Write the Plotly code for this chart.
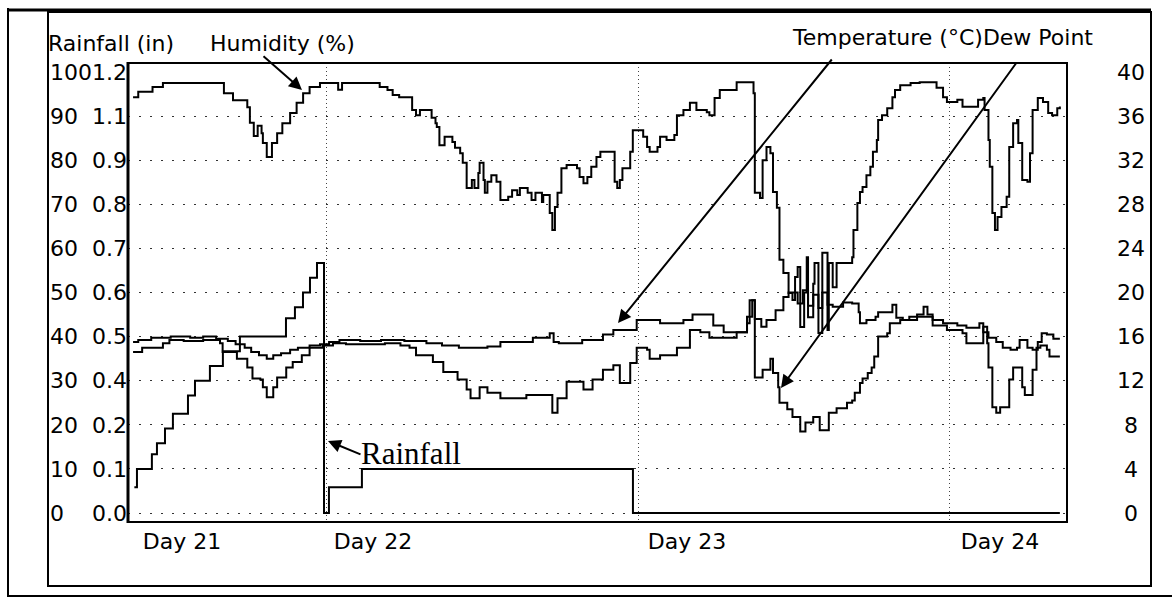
import plotly.graph_objects as go

W, H = 1172, 599

# ---------------- data (x in hours since start of Day 21) ----------------
hum_t = [9.1, 9.5, 10.6, 11.4, 16.1, 16.8, 17.9, 18.1, 18.4, 18.7, 19.0, 19.1, 19.4, 19.8,
         20.2, 20.6, 21.2, 21.7, 22.2, 22.7, 23.5, 24.9, 25.2, 28.1, 28.7, 29.1, 29.6,
         30.6, 30.9, 31.2, 32.1, 32.4, 32.5, 32.7, 33.1, 33.7, 33.9, 34.3, 34.5, 34.8,
         35.2, 35.4, 35.7, 35.8, 36.1, 36.2, 36.4, 36.7, 37.1, 37.4, 38.0, 38.3, 38.7,
         38.9, 39.5, 39.8, 40.1, 40.6, 40.7, 41.2, 41.4, 41.6, 41.8, 42.1, 42.5, 43.3,
         43.5, 43.8, 44.1, 44.4, 44.8, 45.1, 46.2, 46.4, 46.6, 46.8, 47.4, 47.6, 48.4,
         48.7, 48.9, 49.5, 49.7, 50.2, 50.8, 51.0, 51.5, 52.0, 52.5, 53.3, 53.5, 53.9,
         54.3, 55.6, 56.9, 57.0, 57.4, 57.6, 57.9, 58.2, 58.4, 58.7, 58.9, 59.2, 59.6,
         59.9, 60.1, 60.3, 60.5, 60.8, 61.0, 61.1, 61.5, 61.6, 61.9, 62.2, 62.6, 62.7,
         63.0, 63.3, 64.5, 64.6, 64.9, 65.1, 65.3, 65.6, 65.9, 66.1, 66.4, 66.5, 66.8,
         67.2, 67.6, 67.8, 68.2, 69.0, 69.7, 71.0, 71.5, 71.8, 72.6, 73.0, 74.2, 74.6,
         74.7, 75.0, 75.1, 75.3, 75.5, 75.7, 76.0, 76.4, 76.6, 76.9, 77.2, 77.3, 77.6,
         78.0, 78.2, 78.4, 78.8, 79.2, 79.6, 79.9, 80.3, 80.5]
hum_v = [94.3, 95.5, 96.6, 97.5, 95.2, 93.6, 92.0, 88.5, 85.5, 87.8, 86.1, 83.9, 80.7, 83.9,
         86.1, 88.4, 90.7, 93.0, 95.2, 96.6, 97.5, 96.0, 97.5, 96.6, 95.9, 94.8, 94.3,
         91.4, 90.2, 91.4, 89.6, 88.4, 87.5, 83.4, 85.3, 84.1, 82.8, 81.6, 79.4, 73.7,
         75.5, 73.7, 77.1, 79.4, 75.5, 72.6, 75.1, 76.6, 75.1, 71.0, 71.7, 73.2, 72.1,
         73.7, 72.6, 71.0, 72.6, 70.5, 72.1, 68.0, 64.2, 69.4, 72.6, 78.2, 78.9, 78.2,
         76.2, 74.8, 76.2, 78.5, 80.7, 81.9, 75.1, 73.7, 75.5, 78.2, 81.9, 86.8, 85.3,
         83.0, 81.9, 83.0, 85.3, 84.6, 85.7, 90.2, 91.4, 93.0, 91.4, 90.9, 90.2, 94.1,
         95.9, 97.7, 95.2, 72.6, 71.4, 80.0, 83.0, 81.6, 72.8, 69.2, 57.4, 54.4, 49.9,
         48.3, 53.5, 55.8, 42.2, 50.0, 58.0, 44.4, 52.0, 56.7, 40.8, 59.0, 41.5, 56.7,
         51.2, 56.7, 58.0, 64.2, 70.3, 72.8, 73.9, 76.6, 78.5, 81.9, 84.6, 89.1, 90.2,
         91.8, 94.3, 95.9, 97.0, 97.5, 97.7, 96.4, 94.3, 93.2, 93.7, 92.1, 93.7, 94.1,
         91.4, 84.6, 78.5, 68.0, 64.2, 67.1, 69.4, 71.7, 83.0, 88.4, 89.1, 83.9, 75.5,
         75.1, 81.6, 91.4, 94.1, 93.2, 90.7, 90.2, 91.8, 92.2]

rain_t = [9.2, 9.4, 10.55, 10.94, 11.56, 12.17, 13.33, 13.87, 15.02, 16.02, 17.33, 20.88,
          21.57, 22.19, 22.73, 23.27, 23.81, 24.19, 26.73, 47.61, 80.5]
rain_v = [0.07, 0.12, 0.16, 0.19, 0.23, 0.27, 0.32, 0.36, 0.40, 0.44, 0.48, 0.53,
          0.56, 0.60, 0.64, 0.68, 0.0, 0.07, 0.12, 0.0, 0.0]

temp_t = [9.1, 9.5, 10.5, 12.0, 13.5, 14.5, 15.5, 16.4, 17.0, 17.7, 18.2, 18.8, 19.4, 19.9,
          20.5, 21.2, 21.8, 22.7, 23.5, 24.2, 25.0, 26.6, 28.2, 30.0, 31.7, 32.9, 34.2,
          35.5, 36.4, 37.4, 38.7, 39.9, 41.2, 41.5, 41.9, 43.7, 45.3, 46.1, 47.9, 49.7,
          51.5, 52.2, 53.8, 54.6, 56.4, 56.6, 57.0, 57.5, 57.9, 58.6, 59.2, 59.6, 60.3,
          60.7, 61.1, 61.5, 61.9, 62.2, 62.6, 63.0, 63.8, 64.5, 65.0, 65.1, 65.6, 66.3,
          66.5, 67.6, 67.9, 68.4, 69.5, 70.0, 70.3, 70.7, 71.5, 72.6, 73.3, 74.3, 74.6,
          75.0, 75.6, 76.1, 76.7, 77.2, 77.4, 78.0, 78.4, 78.8, 79.1, 79.5, 80.0, 80.5]
temp_v = [15.5, 15.7, 15.9, 16.0, 15.9, 16.0, 15.8, 15.6, 15.3, 15.0, 14.6, 14.3, 14.0, 14.3,
          14.5, 14.8, 15.0, 15.2, 15.3, 15.5, 15.7, 15.6, 15.7, 15.6, 15.4, 15.2, 15.0,
          15.0, 15.1, 15.5, 15.5, 15.9, 16.3, 15.5, 15.4, 15.7, 16.2, 16.6, 17.5, 17.2,
          17.5, 18.0, 17.0, 16.4, 17.2, 19.3, 17.6, 16.9, 17.5, 18.4, 19.6, 20.0, 19.0,
          20.2, 18.8, 19.8, 18.6, 20.0, 18.9, 18.7, 19.1, 19.0, 18.2, 17.2, 17.5, 17.8,
          18.2, 18.9, 17.7, 17.5, 18.0, 18.7, 18.0, 17.5, 17.2, 17.0, 16.8, 17.2, 16.4,
          15.9, 15.5, 15.0, 14.8, 15.0, 15.7, 15.0, 14.8, 15.5, 16.3, 16.2, 15.8, 15.8]

dew_t = [9.1, 9.8, 11.4, 11.9, 13.0, 14.5, 15.8, 16.0, 17.1, 17.9, 18.3, 18.9, 19.1, 19.4,
         19.9, 20.2, 20.9, 21.4, 22.1, 22.7, 23.7, 24.5, 25.5, 28.5, 29.7, 30.4, 30.9,
         32.2, 33.0, 34.1, 34.8, 35.1, 35.8, 36.4, 37.4, 39.4, 41.4, 41.8, 42.5, 43.8,
         44.5, 45.3, 46.1, 46.6, 47.4, 47.9, 48.7, 48.9, 49.7, 51.0, 52.0, 52.8, 53.5,
         55.6, 56.4, 56.8, 57.0, 57.6, 58.2, 58.4, 58.8, 58.9, 59.5, 59.9, 60.5, 60.9,
         61.5, 62.0, 62.7, 63.3, 64.1, 64.5, 64.7, 65.1, 65.3, 65.7, 66.0, 66.2, 66.5,
         67.2, 67.4, 68.2, 68.9, 70.7, 71.8, 73.0, 73.3, 74.3, 74.6, 74.9, 75.0, 75.3,
         75.6, 75.9, 76.4, 76.6, 76.9, 77.3, 77.6, 77.8, 78.2, 78.4, 78.7, 79.0, 79.5,
         79.7, 80.5]
dew_v = [14.6, 15.0, 15.4, 15.7, 15.6, 15.7, 15.4, 14.6, 14.0, 13.2, 12.2, 12.1, 11.4, 10.5,
         11.4, 12.3, 13.2, 13.7, 14.3, 15.0, 15.2, 15.4, 15.3, 15.4, 15.2, 15.0, 14.3,
         13.7, 12.8, 12.1, 11.2, 10.4, 11.4, 10.9, 10.4, 10.7, 9.1, 10.4, 11.9, 11.2,
         12.1, 13.0, 13.4, 11.8, 13.6, 15.0, 14.8, 14.0, 14.3, 15.0, 16.6, 16.4, 15.9,
         16.4, 17.8, 19.3, 12.3, 13.0, 14.0, 12.7, 11.4, 10.0, 9.4, 8.7, 7.4, 8.2,
         8.7, 7.5, 9.1, 9.5, 10.0, 10.2, 10.9, 11.8, 12.2, 12.7, 13.2, 14.2, 16.0,
         16.3, 17.2, 17.5, 17.8, 17.0, 16.6, 16.3, 15.4, 15.4, 16.9, 15.4, 13.2, 9.6,
         9.1, 9.6, 9.6, 12.1, 13.2, 13.2, 11.4, 10.7, 10.7, 13.0, 15.0, 15.2, 14.8,
         14.2, 14.2]

day_ticks = [12.87, 27.58, 51.77, 75.89]
day_labels = ["Day 21", "Day 22", "Day 23", "Day 24"]
day_bounds = [24, 48, 72]

hum_ticks = [0, 10, 20, 30, 40, 50, 60, 70, 80, 90, 100]
hum_labels = ["0", "10", "20", "30", "40", "50", "60", "70", "80", "90", "100"]
hum_grid = [0, 10, 20, 30, 40, 50, 60, 70, 80, 90]
rain_ticks = [0.0, 0.12, 0.24, 0.36, 0.48, 0.60, 0.72, 0.84, 0.96, 1.08, 1.20]
rain_labels = ["0.0", "0.1", "0.2", "0.4", "0.5", "0.6", "0.7", "0.8", "0.9", "1.1", "1.2"]
temp_ticks = [0, 4, 8, 12, 16, 20, 24, 28, 32, 36, 40]
temp_labels = ["0", "4", "8", "12", "16", "20", "24", "28", "32", "36", "40"]

# ---------------- layout helpers ----------------
def px(x):
    return x / W

def py(y):
    return 1 - y / H

FONT = "DejaVu Sans"
X_RANGE = [8.71, 81.05]
HUM_RANGE = [-2.04, 102.04]
RAIN_RANGE = [-2.04 * 0.012, 102.04 * 0.012]
TEMP_RANGE = [-2.04 * 0.4, 102.04 * 0.4]

# padded labels for alignment
hum_text = [s + "\u2007" * (3 - len(s)) for s in hum_labels]
temp_text = [("\u00a0" + s) if len(s) == 1 else s for s in temp_labels]

line_style = dict(color="black", width=2, shape="hv")

fig = go.Figure()
fig.add_trace(go.Scatter(x=hum_t, y=hum_v, mode="lines", line=line_style, yaxis="y", name="Humidity"))
fig.add_trace(go.Scatter(x=rain_t, y=rain_v, mode="lines", line=line_style, yaxis="y2", name="Rainfall"))
fig.add_trace(go.Scatter(x=temp_t, y=temp_v, mode="lines", line=line_style, yaxis="y3", name="Temperature"))
fig.add_trace(go.Scatter(x=dew_t, y=dew_v, mode="lines", line=line_style, yaxis="y3", name="Dew Point"))

ydom = [py(522), py(63)]
tickfont = dict(family=FONT, size=22, color="black")

fig.update_layout(
    width=W, height=H,
    margin=dict(l=0, r=0, t=0, b=0, autoexpand=False),
    paper_bgcolor="white", plot_bgcolor="white",
    showlegend=False, hovermode=False,
    xaxis=dict(domain=[px(128), px(1067)], range=X_RANGE, anchor="y",
               tickmode="array", tickvals=day_ticks, ticktext=day_labels,
               ticks="", showgrid=False, zeroline=False, showline=False,
               tickfont=tickfont, ticklabelstandoff=4,
               minor=dict(tickmode="array", tickvals=day_bounds, showgrid=True,
                          gridcolor="#444", gridwidth=1, griddash="1px,3px", ticks="")),
    yaxis=dict(domain=ydom, range=HUM_RANGE, anchor="free", position=px(92), side="left",
               tickmode="array", tickvals=hum_ticks, ticktext=hum_text,
               ticks="", showgrid=False, zeroline=False, showline=False, tickfont=tickfont,
               minor=dict(tickmode="array", tickvals=hum_grid, showgrid=True,
                          gridcolor="#333", gridwidth=1, griddash="2px,9px", ticks="")),
    yaxis2=dict(overlaying="y", range=RAIN_RANGE, anchor="x", side="left",
                tickmode="array", tickvals=rain_ticks, ticktext=rain_labels,
                ticks="", showgrid=False, zeroline=False, showline=False, tickfont=tickfont),
    yaxis3=dict(overlaying="y", range=TEMP_RANGE, anchor="free", position=px(1116), side="right",
                tickmode="array", tickvals=temp_ticks, ticktext=temp_text,
                ticks="", showgrid=False, zeroline=False, showline=False, tickfont=tickfont),
)

# frames
shapes = [
    dict(type="rect", xref="paper", yref="paper", x0=px(128), x1=px(1067), y0=py(522), y1=py(63),
         line=dict(color="black", width=2)),
    dict(type="line", xref="paper", yref="paper", x0=px(128), x1=px(128), y0=py(523), y1=py(62),
         line=dict(color="black", width=3)),
    dict(type="line", xref="paper", yref="paper", x0=px(8), x1=px(8), y0=py(597), y1=py(8),
         line=dict(color="black", width=2)),
    dict(type="line", xref="paper", yref="paper", x0=px(8), x1=px(1151), y0=py(10), y1=py(10),
         line=dict(color="black", width=3)),
    dict(type="rect", xref="paper", yref="paper", x0=px(48), x1=px(1151), y0=py(586), y1=py(12),
         line=dict(color="black", width=2)),
    dict(type="line", xref="paper", yref="paper", x0=px(8), x1=px(1172), y0=py(596), y1=py(596),
         line=dict(color="black", width=2)),
]
fig.update_layout(shapes=shapes)

ann = []
def text_ann(t, x, y, font):
    ann.append(dict(text=t, xref="paper", yref="paper", x=px(x), y=py(y), xanchor="left",
                    yanchor="middle", showarrow=False, font=font))

def arrow(hx, hy, tx, ty):
    ann.append(dict(text="", xref="paper", yref="paper", x=px(hx), y=py(hy),
                    ax=tx - hx, ay=ty - hy, axref="pixel", ayref="pixel",
                    showarrow=True, arrowhead=2, arrowsize=1.3, arrowwidth=2,
                    arrowcolor="black"))

lab_font = dict(family=FONT, size=22, color="black")
text_ann("Rainfall (in)", 46, 43, lab_font)
text_ann("Humidity (%)", 208, 43, lab_font)
text_ann("Temperature (°C)Dew Point", 790, 38, lab_font)
text_ann("Rainfall", 359, 453, dict(family="Liberation Serif", size=31, color="black"))
arrow(302, 90, 262, 55)
arrow(618, 323, 833, 58)
arrow(781, 388, 1017, 62)
arrow(328, 441, 362, 455)
fig.update_layout(annotations=ann)

fig.write_html("out.html", config={"displayModeBar": False, "staticPlot": True},
               post_script="document.body.style.margin='0px';")
